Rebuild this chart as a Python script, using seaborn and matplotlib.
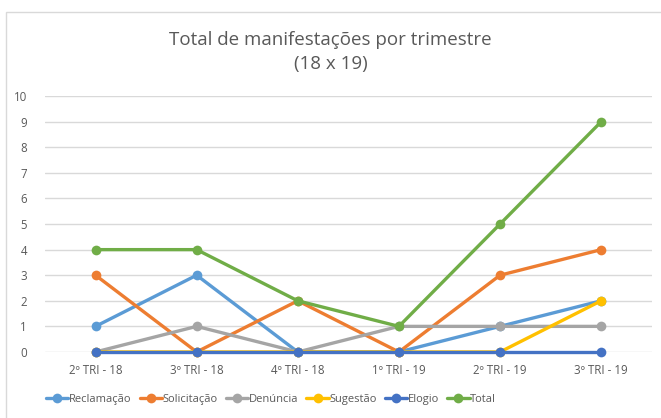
import matplotlib
matplotlib.use("Agg")
import matplotlib.pyplot as plt
import seaborn as sns
import pandas as pd
from matplotlib.patches import Rectangle

# Data
trimestres = ["2º TRI - 18", "3º TRI - 18", "4º TRI - 18", "1º TRI - 19", "2º TRI - 19", "3º TRI - 19"]
reclamacao = [1, 3, 0, 0, 1, 2]
solicitacao = [3, 0, 2, 0, 3, 4]
denuncia = [0, 1, 0, 1, 1, 1]
sugestao = [0, 0, 0, 0, 0, 2]
elogio = [0, 0, 0, 0, 0, 0]
total = [4, 4, 2, 1, 5, 9]

series = {
    "Reclamação": reclamacao,
    "Solicitação": solicitacao,
    "Denúncia": denuncia,
    "Sugestão": sugestao,
    "Elogio": elogio,
    "Total": total,
}
cores = ["#5B9BD5", "#ED7D31", "#A5A5A5", "#FFC000", "#4472C4", "#70AD47"]

sns.set_theme(style="white")
plt.rcParams["font.family"] = ["Open Sans", "DejaVu Sans"]
txt = "#595959"

fig = plt.figure(figsize=(6.61, 4.18), dpi=100)
ax = fig.add_axes([0.068, 0.158, 0.918, 0.612])

# chart border (extends past the right/bottom edge like the screenshot)
fig.patches.append(Rectangle((6 / 661, -0.05), 1.0, 1 - 12 / 418 + 0.05, transform=fig.transFigure,
                             fill=False, edgecolor="#D9D9D9", linewidth=1.0))

ax.yaxis.grid(True, color="#D9D9D9", linewidth=1, zorder=0)
ax.set_axisbelow(True)

# one call per series so later series sit on top (as in Excel)
for i, (nome, vals) in enumerate(series.items()):
    df = pd.DataFrame({"pos": range(len(vals)), "valor": vals})
    sns.lineplot(data=df, x="pos", y="valor", color=cores[i], marker="o", label=nome,
                 markersize=7, markeredgewidth=0, linewidth=2.4, ax=ax, sort=False,
                 zorder=3 + i, clip_on=False)

ax.set_xlim(-0.5, 5.5)
ax.set_ylim(0, 10)
ax.set_yticks(range(0, 11))
ax.set_xticks(range(len(trimestres)))
ax.set_xticklabels(trimestres)
ax.xaxis.grid(False)
ax.set_xlabel("")
ax.set_ylabel("")
for s in ax.spines.values():
    s.set_visible(False)
ax.tick_params(axis="both", colors=txt, labelsize=8.3, length=0, pad=9)
ax.tick_params(axis="y", pad=13)

fig.text(0.5, 0.905, "Total de manifestações por trimestre", ha="center", va="center",
         fontsize=13.5, color=txt)
fig.text(0.5, 0.848, "(18 x 19)", ha="center", va="center", fontsize=13.5, color=txt)

handles, labels = ax.get_legend_handles_labels()
ax.legend(handles, labels, loc="center", bbox_to_anchor=(0.41, 0.045), bbox_transform=fig.transFigure,
          ncol=6, frameon=False, fontsize=8, labelcolor=txt, handlelength=2.0,
          handletextpad=0.05, columnspacing=0.75)

fig.savefig("out.png", dpi=100)
